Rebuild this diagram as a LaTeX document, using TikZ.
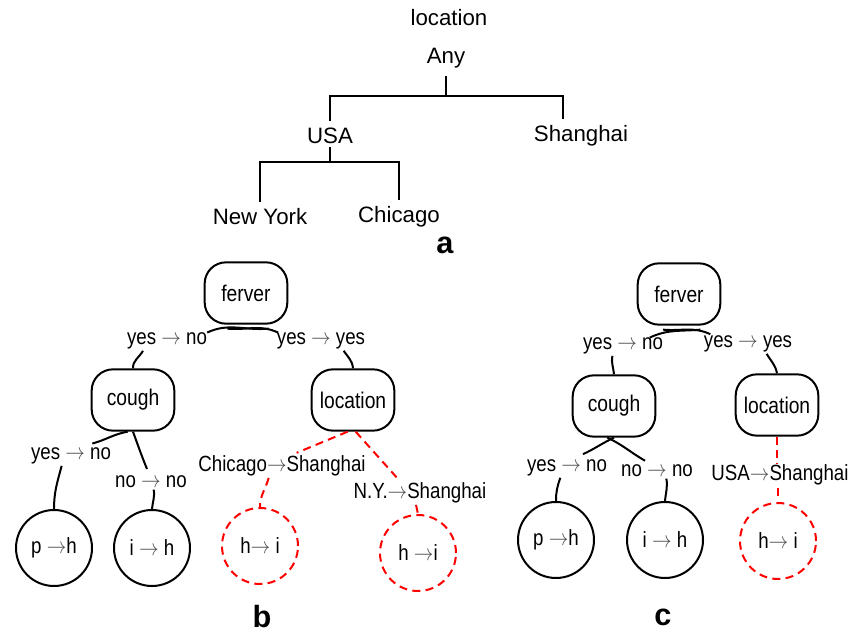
\documentclass[tikz,border=0pt]{standalone}
\usepackage{fontspec}
\usepackage{graphicx}
\setmainfont{Liberation Sans}
\newfontfamily\narrowfont{Liberation Sans}[FakeStretch=0.85]
\usetikzlibrary{calc}
\definecolor{arrgray}{RGB}{80,80,80}
\newcommand{\myarr}{{\color{arrgray}\scalebox{0.85}[1]{$\rightarrow$}}}
\tikzset{
  x=0.75pt, y=-0.75pt,
  atxt/.style={inner sep=0pt, font=\fontsize{16.7}{20}\selectfont},
  btxt/.style={inner sep=0pt, font=\narrowfont\fontsize{16.5}{20}\selectfont},
  rbox/.style={draw, line width=1.5pt, rounded corners=16pt, minimum width=62pt, minimum height=46pt, inner sep=0pt, font=\narrowfont\fontsize{17}{20}\selectfont},
  leaf/.style={draw, circle, line width=1.5pt, minimum size=57pt, inner sep=0pt, font=\narrowfont\fontsize{16.5}{20}\selectfont},
  rleaf/.style={leaf, draw=red, dash pattern=on 6pt off 4pt},
  conn/.style={line width=1.5pt},
  tconn/.style={line width=1.4pt},
  rconn/.style={line width=1.5pt, red, dash pattern=on 6pt off 4pt},
  panel/.style={inner sep=0pt, font=\bfseries\fontsize{23}{26}\selectfont},
}
\begin{document}
\begin{tikzpicture}
\useasboundingbox (0,0) rectangle (848,634);
% ---------- part a ----------
\node[atxt] (aloc) at (449,18) {location};
\node[atxt] (any) at (446,58) {Any};
\node[atxt] (usa) at (330,136) {USA};
\node[atxt] (sha) at (581,136) {Shanghai};
\node[atxt] (ny) at (260,217) {New York};
\node[atxt] (chi) at (399,217) {Chicago};
\coordinate (j1) at (446,96);
\coordinate (j2) at (330,162);
\draw[tconn] ([yshift=-6pt]any.south) -- (j1);
\draw[tconn] ([yshift=5pt]usa.north) |- (j1) -| ([xshift=-13.5pt,yshift=5pt]sha.north);
\draw[tconn] ([yshift=-2pt]usa.south) -- (j2);
\draw[tconn] ([yshift=5pt]ny.north) |- (j2) -| ([yshift=5pt]chi.north);
\node[panel] (pa) at (445,245) {a};
% ---------- part b ----------
\node[rbox] (fb) at (246,293) {ferver};
\node[btxt] (lb1) at (167,341) {yes \myarr{} no};
\node[btxt] (lb2) at (321,341) {yes \myarr{} yes};
\node[rbox] (cb) at (133,400) {cough};
\node[rbox] (locb) at (353,400) {location};
\node[btxt] (lb3) at (71,456) {yes \myarr{} no};
\node[btxt] (lb4) at (151,482) {no \myarr{} no};
\node[btxt] (lb5) at (282,466) {Chicago\myarr{}Shanghai};
\node[btxt] (lb6) at (420,493) {N.Y.\myarr{}Shanghai};
\node[leaf] (pb) at (54,548) {p \myarr{}h};
\node[leaf] (ib) at (152,548) {i \myarr{} h};
\node[rleaf] (hb1) at (260,546) {h\myarr{} i};
\node[rleaf] (hb2) at (418,553) {h \myarr{}i};
\draw[conn] ([xshift=0pt,yshift=0pt]lb1.north east) to[out=25,in=185] ([xshift=17pt,yshift=-3pt]fb.south);
\draw[conn] ([xshift=-14pt,yshift=-3pt]fb.south) to[out=-5,in=155] ([xshift=1pt,yshift=0pt]lb2.north west);
\draw[conn] ([xshift=-18pt,yshift=-1pt]lb1.south) to[out=-120,in=92] (cb.north);
\draw[conn] ([xshift=17pt,yshift=-1pt]lb2.south) to[out=-55,in=95] (locb.north);
\draw[conn] ([xshift=-4pt]cb.south) to[out=190,in=15] ([xshift=16pt,yshift=3pt]lb3.north);
\draw[conn] (cb.south) to[out=-70,in=112] ([xshift=-3pt,yshift=5pt]lb4.north);
\draw[conn] ([xshift=-7pt,yshift=-1pt]lb3.south) to[out=-105,in=90] (pb.north);
\draw[conn] ([xshift=2pt,yshift=-1pt]lb4.south) to[out=-80,in=85] (ib.north);
\draw[rconn] ([xshift=-4pt]locb.south) -- ([xshift=11pt,yshift=2pt]lb5.north);
\draw[rconn] ([xshift=2pt]locb.south) -- ([xshift=-15pt,yshift=1pt]lb6.north);
\draw[rconn] ([xshift=-10pt,yshift=-1pt]lb5.south) to[out=-105,in=90] (hb1.north);
\draw[rconn] ([xshift=-3pt,yshift=-1pt]lb6.south) -- (hb2.north);
\node[panel] (pbl) at (262,617) {b};
% ---------- part c ----------
\node[rbox] (fc) at (679,294) {ferver};
\node[btxt] (lc1) at (623,346) {yes \myarr{} no};
\node[btxt] (lc2) at (748,344) {yes \myarr{} yes};
\node[rbox] (cc) at (614,406) {cough};
\node[rbox] (locc) at (777,405) {location};
\node[btxt] (lc3) at (567,468) {yes \myarr{} no};
\node[btxt] (lc4) at (657,471) {no \myarr{} no};
\node[btxt] (lc5) at (780,475) {USA\myarr{}Shanghai};
\node[leaf] (pc) at (556,540) {p \myarr{}h};
\node[leaf] (ic) at (665,540) {i \myarr{} h};
\node[rleaf] (hc) at (778,541) {h\myarr{} i};
\draw[conn] ([xshift=-10pt,yshift=0pt]lc1.north east) to[out=25,in=185] ([xshift=16pt,yshift=-3pt]fc.south);
\draw[conn] ([xshift=-12pt,yshift=-3pt]fc.south) to[out=-5,in=155] ([xshift=5pt,yshift=1pt]lc2.north west);
\draw[conn] ([xshift=-8pt,yshift=-1pt]lc1.south) to[out=-100,in=95] (cc.north);
\draw[conn] ([xshift=14pt,yshift=-1pt]lc2.south) to[out=-60,in=100] (locc.north);
\draw[conn] (cc.south) to[out=205,in=25] ([xshift=12pt,yshift=4pt]lc3.north);
\draw[conn] ([xshift=-5pt]cc.south) to[out=-25,in=150] ([xshift=-9pt,yshift=3pt]lc4.north);
\draw[conn] ([xshift=-5pt,yshift=-1pt]lc3.south) to[out=-110,in=90] (pc.north);
\draw[conn] ([xshift=7pt,yshift=-1pt]lc4.south) to[out=-80,in=85] (ic.north);
\draw[rconn] (locc.south) -- (locc.south |- lc5.north);
\draw[rconn] ([yshift=-2pt]lc5.south -| hc.north) -- (hc.north);
\node[panel] (pcl) at (663,617) {c};
\end{tikzpicture}
\end{document}
